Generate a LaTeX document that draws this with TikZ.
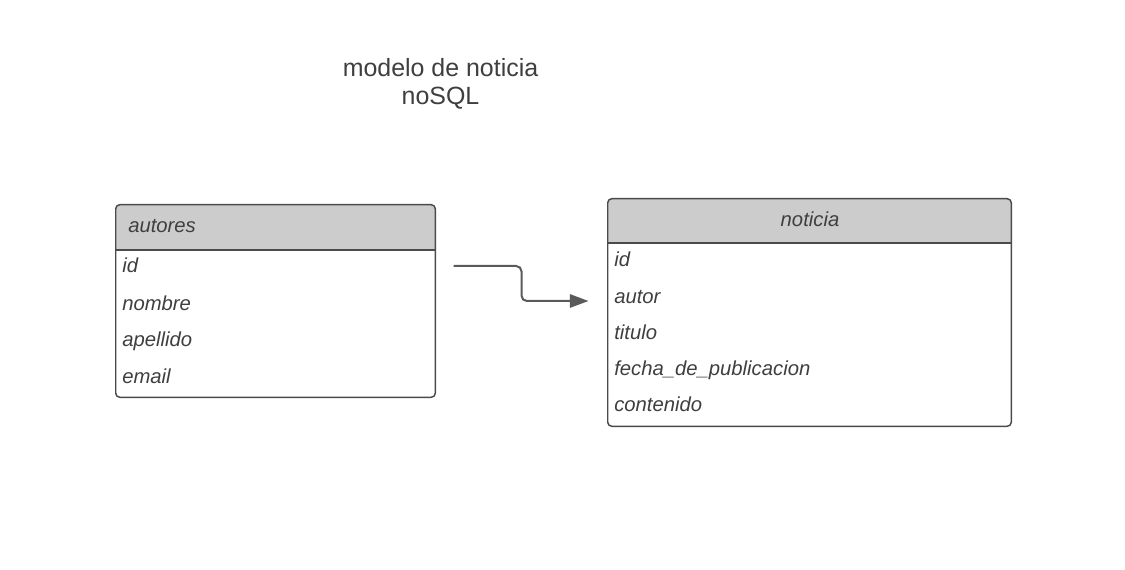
\documentclass[tikz,border=0pt]{standalone}
\usepackage{fontspec}
\setmainfont{Liberation Sans}
\usetikzlibrary{arrows.meta}
\definecolor{txt}{HTML}{3F3F3F}
\definecolor{bord}{HTML}{4A4A4A}
\definecolor{hdr}{HTML}{CCCCCC}
\definecolor{conncol}{HTML}{5A5A5A}
\tikzset{
  tbl/.style={draw=none, rectangle, inner sep=0pt},
  outline/.style={draw=bord, line width=1.1pt, rounded corners=3pt},
  hfill/.style={fill=hdr},
  sep/.style={draw=bord, line width=1.1pt},
  field/.style={anchor=base west, inner sep=0pt, text=txt, font=\fontsize{15.2}{18}\selectfont\itshape},
  title/.style={anchor=base, inner sep=0pt, text=txt, font=\fontsize{18.7}{21}\selectfont},
  conn/.style={draw=conncol, line width=1.5pt, rounded corners=4pt, -{Triangle[length=14pt,width=10pt]}}
}
\begin{document}
\begin{tikzpicture}[x=0.75pt,y=-0.75pt]
\useasboundingbox[fill=white] (0,0) rectangle (1125,570);
% title
\node[title] (t1) at (440.5,76.5) {modelo de noticia};
\node[title] (t2) at (440.5,104.5) {noSQL};
% autores table
\node[tbl, minimum width=239.25pt, minimum height=144pt] (autores) at (275.5,301) {};
\coordinate (ha) at (0,250);
\fill[hfill, rounded corners=3pt] (autores.west |- ha) -- (autores.north west) -- (autores.north east) [sharp corners] -- (autores.east |- ha) -- cycle;
\draw[sep] (autores.west |- ha) -- (autores.east |- ha);
\draw[outline] (autores.north west) rectangle (autores.south east);
\node[field] (ah) at (128,232.3) {autores};
\node[field] (a1) at (122,273) {id};
\node[field] (a2) at (122,310.5) {nombre};
\node[field] (a3) at (122,347) {apellido};
\node[field] (a4) at (122,383.5) {email};
% noticia table
\node[tbl, minimum width=302.25pt, minimum height=170.25pt] (noticia) at (809.5,312.5) {};
\coordinate (hn) at (0,243);
\fill[hfill, rounded corners=3pt] (noticia.west |- hn) -- (noticia.north west) -- (noticia.north east) [sharp corners] -- (noticia.east |- hn) -- cycle;
\draw[sep] (noticia.west |- hn) -- (noticia.east |- hn);
\draw[outline] (noticia.north west) rectangle (noticia.south east);
\node[field, anchor=base] (nh) at (810,226.7) {noticia};
\node[field] (n1) at (614,266.7) {id};
\node[field] (n2) at (614,303.3) {autor};
\node[field] (n3) at (614,339.3) {titulo};
\node[field] (n4) at (614,375.5) {fecha\_de\_publicacion};
\node[field] (n5) at (614,411.7) {contenido};
% connector
\coordinate (cs) at (453.5,266);
\coordinate (cm) at (521.5,283);
\coordinate (ce) at (588.5,301);
\draw[conn] (cs) -| (cm) |- (ce);
\end{tikzpicture}
\end{document}
